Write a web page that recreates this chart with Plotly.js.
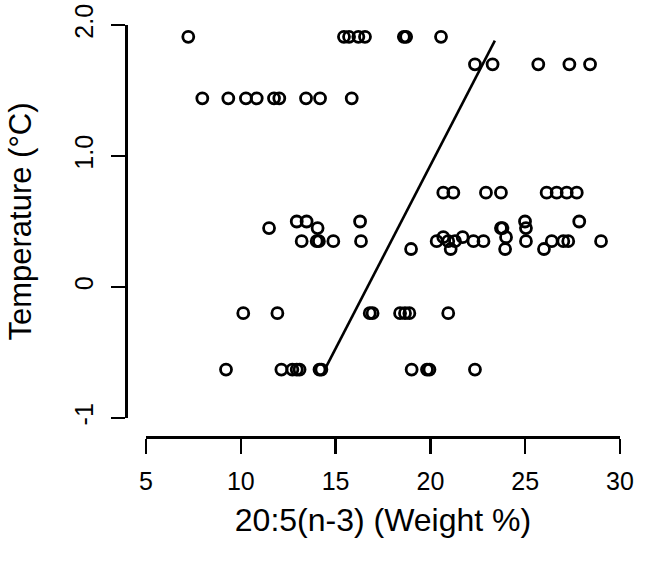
<!DOCTYPE html>
<html>
<head>
<meta charset="utf-8">
<script src="https://cdn.plot.ly/plotly-3.0.1.min.js"></script>
<style>
  body { margin: 0; background: #fff; }
  #chart { width: 646px; height: 564px; }
</style>
</head>
<body>
<div id="chart"></div>
<script>
// Data: 20:5(n-3) weight % vs temperature
const epaValues = [
    7.23, 15.44, 15.71, 16.2, 16.55, 18.6, 18.72, 20.56,
    22.35, 23.28, 25.69, 27.33, 28.42,
    7.97, 9.34, 10.27, 10.84, 11.75, 12.03, 13.44, 14.18, 15.85,
    20.68, 21.21, 22.93, 23.72, 26.13, 26.66, 27.19, 27.72,
    12.95, 13.47, 16.29, 24.99, 27.85,
    11.49, 14.05, 23.72, 23.8, 25.04,
    13.21, 14.0, 14.12, 14.88, 16.34, 20.33, 20.94, 21.3, 22.27, 22.8, 25.04, 26.4, 27.01, 27.27, 29.0,
    20.68, 21.7, 23.99,
    18.98, 21.07, 23.94, 25.99,
    10.13, 11.93, 16.8, 16.95, 18.4, 18.66, 18.89, 20.94,
    9.22, 12.14, 12.72, 12.95, 13.1, 14.15, 14.25, 19.01, 19.82, 19.95, 22.35
];
const tempValues = [
    1.91, 1.91, 1.91, 1.91, 1.91, 1.91, 1.91, 1.91,
    1.70, 1.70, 1.70, 1.70, 1.70,
    1.44, 1.44, 1.44, 1.44, 1.44, 1.44, 1.44, 1.44, 1.44,
    0.72, 0.72, 0.72, 0.72, 0.72, 0.72, 0.72, 0.72,
    0.5, 0.5, 0.5, 0.5, 0.5,
    0.45, 0.45, 0.45, 0.45, 0.45,
    0.35, 0.35, 0.35, 0.35, 0.35, 0.35, 0.35, 0.35, 0.35, 0.35, 0.35, 0.35, 0.35, 0.35, 0.35,
    0.38, 0.38, 0.38,
    0.29, 0.29, 0.29, 0.29,
    -0.2, -0.2, -0.2, -0.2, -0.2, -0.2, -0.2, -0.2,
    -0.63, -0.63, -0.63, -0.63, -0.63, -0.63, -0.63, -0.63, -0.63, -0.63, -0.63
];

// fitted line ends
const fitX = [14.5, 23.4];
const fitY = [-0.61, 1.88];

const xTicks = [5, 10, 15, 20, 25, 30];
const yTicks = [-1, 0, 1, 2];
const yTickText = ['-1', '0', '1.0', '2.0'];

const points = {
    x: epaValues,
    y: tempValues,
    type: 'scatter',
    mode: 'markers',
    marker: {
        symbol: 'circle-open',
        size: 11,
        color: '#000',
        line: { color: '#000', width: 2.8 }
    },
    cliponaxis: false,
    hoverinfo: 'x+y'
};

const fitLine = {
    x: fitX,
    y: fitY,
    type: 'scatter',
    mode: 'lines',
    line: { color: '#000', width: 2.6 },
    hoverinfo: 'skip'
};

const font = 'Liberation Sans, Arial, sans-serif';

const layout = {
    width: 646,
    height: 564,
    margin: { l: 126, r: 26, t: 25, b: 127 },
    paper_bgcolor: '#fff',
    plot_bgcolor: '#fff',
    showlegend: false,
    font: { family: font, color: '#000' },
    xaxis: {
        domain: [0.0405, 1],
        range: [5, 30],
        anchor: 'free',
        position: 0,
        showline: true,
        linecolor: '#000',
        linewidth: 2.5,
        ticks: 'outside',
        ticklen: 15,
        tickwidth: 2.5,
        tickcolor: '#000',
        tickvals: xTicks,
        tickfont: { size: 25 },
        ticklabelstandoff: 6,
        showgrid: false,
        zeroline: false,
        title: { text: '20:5(n-3) (Weight %)', font: { size: 32 }, standoff: 14 }
    },
    yaxis: {
        domain: [0.0461, 1],
        range: [-1, 2],
        anchor: 'free',
        position: 0,
        showline: true,
        linecolor: '#000',
        linewidth: 2.5,
        ticks: 'outside',
        ticklen: 14,
        tickwidth: 2.5,
        tickcolor: '#000',
        tickvals: yTicks,
        ticktext: yTickText,
        tickangle: -90,
        tickfont: { size: 25 },
        ticklabelstandoff: 8,
        showgrid: false,
        zeroline: false,
        title: { text: 'Temperature (°C)', font: { size: 31 }, standoff: 28 }
    }
};

Plotly.newPlot('chart', [points, fitLine], layout, { displayModeBar: false, staticPlot: true });
</script>
</body>
</html>
